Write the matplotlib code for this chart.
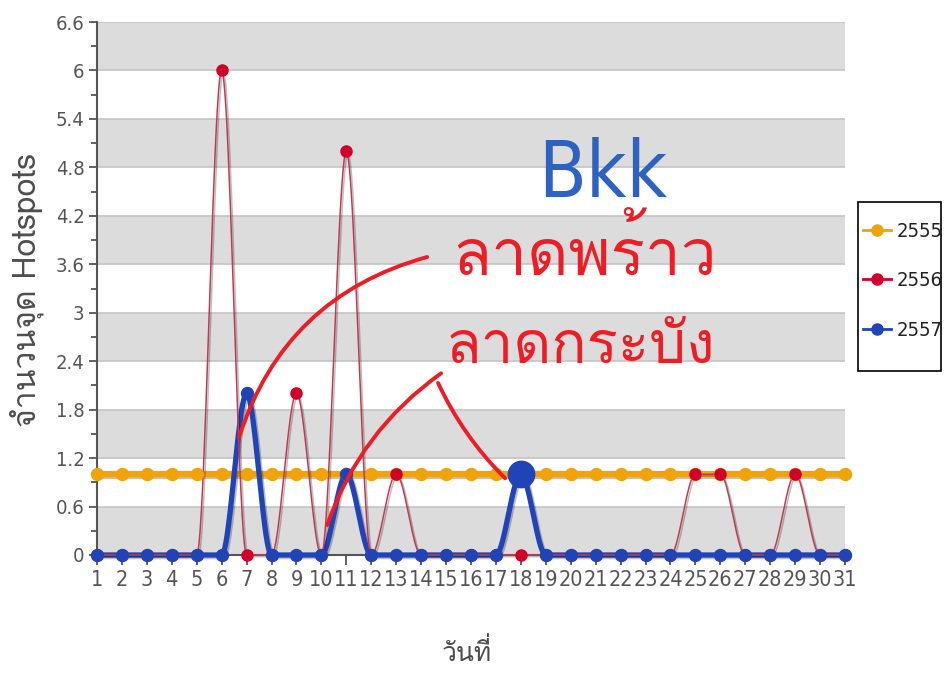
import matplotlib
matplotlib.use("Agg")
import numpy as np
import matplotlib.pyplot as plt
import matplotlib.patheffects as pe
from matplotlib import font_manager, ft2font
from matplotlib.lines import Line2D
from matplotlib.patches import Rectangle
from matplotlib.ticker import MultipleLocator, FuncFormatter

# data
days = list(range(1, 32))
hotspots_2555 = [1] * 31
hotspots_2556 = [0, 0, 0, 0, 0, 6, 0, 0, 2, 0, 5, 0, 1, 0, 0, 0,
                 0, 0, 0, 0, 0, 0, 0, 0, 1, 1, 0, 0, 1, 0, 0]
hotspots_2557 = [0, 0, 0, 0, 0, 0, 2, 0, 0, 0, 1, 0, 0, 0, 0, 0,
                 0, 1, 0, 0, 0, 0, 0, 0, 0, 0, 0, 0, 0, 0, 0]
series_names = ["2555", "2556", "2557"]
highlight_day = 18

c_orange = "#f0a30a"
c_red = "#d0002a"
c_blue = "#2143b8"
c_pen = "#ee1c24"


def find_thai_font():
    for f in font_manager.fontManager.ttflist:
        try:
            if ord("จ") in ft2font.FT2Font(f.fname).get_charmap():
                return f.name
        except Exception:
            pass
    return None


thai = find_thai_font()
plt.rcParams["font.family"] = ([thai] if thai else []) + ["DejaVu Sans"]


def smooth(x, y, n=24):
    # monotone cubic (Fritsch-Carlson) just for drawing the line shape
    x = np.asarray(x, float)
    y = np.asarray(y, float)
    h = np.diff(x)
    d = np.diff(y) / h
    m = np.zeros_like(y)
    for i in range(1, len(y) - 1):
        if d[i - 1] * d[i] > 0:
            m[i] = 2.0 / (1.0 / d[i - 1] + 1.0 / d[i])
    xs, ys = [], []
    for i in range(len(h)):
        t = np.linspace(0, 1, n)
        h00 = 2 * t**3 - 3 * t**2 + 1
        h10 = t**3 - 2 * t**2 + t
        h01 = -2 * t**3 + 3 * t**2
        h11 = t**3 - t**2
        xs.append(x[i] + t * h[i])
        ys.append(h00 * y[i] + h10 * h[i] * m[i] + h01 * y[i + 1] + h11 * h[i] * m[i + 1])
    return np.concatenate(xs), np.concatenate(ys)


fig = plt.figure(figsize=(9.45, 6.73), dpi=100)
ax = fig.add_axes([97 / 945, 1 - 555 / 673, 748 / 945, 533 / 673])

ax.set_xlim(1, 31)
ax.set_ylim(0, 6.6)

# alternating bands
for k in range(0, 11, 2):
    ax.axhspan(0.6 * k, 0.6 * (k + 1), color="#dcdcdc", zorder=0, lw=0)
ax.yaxis.grid(True, color="#c4c4c4", lw=1.2, zorder=0.5)
ax.set_axisbelow(True)

shadow = [pe.SimpleLineShadow(offset=(1.2, -1.2), shadow_color="black", alpha=0.25), pe.Normal()]

sx, sy = smooth(days, hotspots_2555)
ax.plot(sx, sy, color=c_orange, lw=4.5, zorder=2, solid_capstyle="round", path_effects=shadow, clip_on=False)
sx, sy = smooth(days, hotspots_2557)
ax.plot(sx, sy, color=c_blue, lw=3.8, zorder=3, solid_capstyle="round", path_effects=shadow, clip_on=False)
sx, sy = smooth(days, hotspots_2556)
ax.plot(sx, sy, color="#c23a52", lw=1.1, zorder=4, path_effects=shadow, clip_on=False)

ax.plot(days, hotspots_2555, ls="none", marker="o", ms=8.6, color=c_orange, zorder=5, clip_on=False)
ax.plot(days, hotspots_2556, ls="none", marker="o", ms=8.0, color=c_red, zorder=6, clip_on=False)
ax.plot(days, hotspots_2557, ls="none", marker="o", ms=8.6, color=c_blue, zorder=7, clip_on=False)
ax.plot([highlight_day], [hotspots_2557[days.index(highlight_day)]], ls="none", marker="o",
        ms=19, color=c_blue, zorder=8, clip_on=False)

# axes styling
for s in ["top", "right"]:
    ax.spines[s].set_visible(False)
for s in ["left", "bottom"]:
    ax.spines[s].set_color("#555555")
    ax.spines[s].set_linewidth(1.5)
    ax.spines[s].set_zorder(1)

ax.set_xticks(days)
ax.set_xticklabels([str(d) for d in days])
ax.yaxis.set_major_locator(MultipleLocator(0.6))
ax.yaxis.set_minor_locator(MultipleLocator(0.3))
ax.yaxis.set_major_formatter(FuncFormatter(lambda v, p: f"{round(v, 1):g}"))
ax.tick_params(axis="x", length=7, width=1.3, color="#555555", pad=4,
               labelsize=15.5, labelcolor="#555555")
ax.tick_params(axis="y", which="major", length=6, width=1.3, color="#555555", pad=3,
               labelsize=14.5, labelcolor="#555555")
ax.tick_params(axis="y", which="minor", length=4, width=1.3, color="#555555")
for lab in ax.get_xticklabels() + ax.get_yticklabels():
    lab.set_fontfamily(["DejaVu Sans"])
    lab.set_fontstretch("condensed")

fig.text(27 / 945, 1 - 290 / 673, "จำนวนจุด Hotspots", rotation=90, ha="center", va="center",
         fontsize=23, color="#4d4d4d")
fig.text(467 / 945, 1 - 652 / 673, "วันที่", ha="center", va="center",
         fontsize=19, color="#4d4d4d")

# legend (frame drawn separately so the box can be narrow and tall)
handles = [
    Line2D([], [], color=c_orange, lw=2, marker="o", ms=8),
    Line2D([], [], color=c_red, lw=2, marker="o", ms=8),
    Line2D([], [], color=c_blue, lw=2, marker="o", ms=8),
]
leg = fig.legend(handles, series_names, loc="center left", bbox_to_anchor=(863 / 945, 1 - 281 / 673),
                 frameon=False, handlelength=1.4, handletextpad=0.25, labelspacing=1.5,
                 borderpad=0, borderaxespad=0,
                 prop={"family": ["DejaVu Sans"], "stretch": "condensed", "size": 14.5})
for t in leg.get_texts():
    t.set_color("#222222")
fig.add_artist(Rectangle((858 / 945, 1 - 371 / 673), 83 / 945, 169 / 673,
                         transform=fig.transFigure, fill=False, ec="black", lw=1.2))

# handwritten notes on the screenshot
ax.text(21.3, 4.43, "Bkk", color="#2d62c0", fontsize=56, ha="center", va="baseline",
        fontfamily=["DejaVu Sans"], fontstretch="condensed", zorder=10)
ax.text(20.57, 3.47, "ลาดพร้าว", color=c_pen, fontsize=46, ha="center", va="baseline", zorder=10)
ax.text(20.37, 2.38, "ลาดกระบัง", color=c_pen, fontsize=42, ha="center", va="baseline", zorder=10)

pen = dict(arrowstyle="-", color=c_pen, lw=2.8, shrinkA=0, shrinkB=0)
ax.annotate("", xy=(14.24, 3.69), xytext=(6.70, 1.46), annotation_clip=False,
            arrowprops=dict(pen, connectionstyle="arc3,rad=-0.27"), zorder=10)
ax.annotate("", xy=(14.80, 2.25), xytext=(10.23, 0.37), annotation_clip=False,
            arrowprops=dict(pen, connectionstyle="arc3,rad=-0.16"), zorder=10)
ax.annotate("", xy=(17.37, 0.95), xytext=(14.68, 2.13), annotation_clip=False,
            arrowprops=dict(pen, connectionstyle="arc3,rad=0.09"), zorder=10)

fig.savefig("out.png", dpi=100)
